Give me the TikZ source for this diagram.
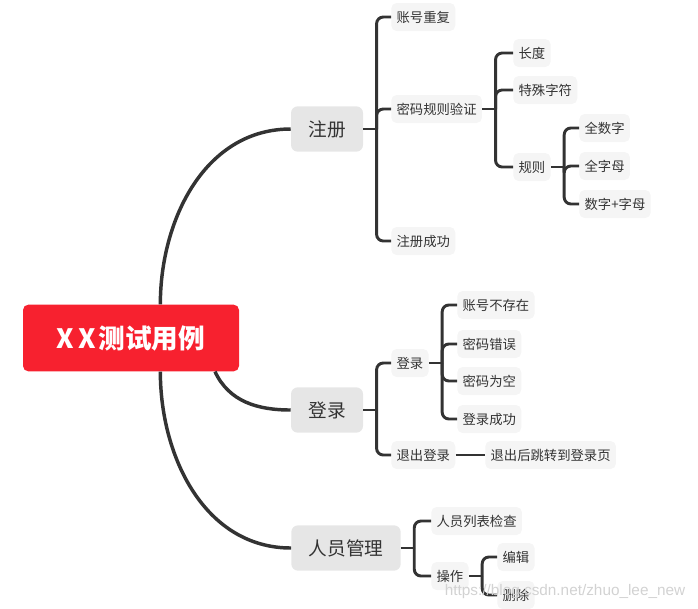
\documentclass[tikz,border=0pt]{standalone}
\usepackage{fontspec}
\newfontfamily\cjk{Noto Sans CJK SC}
\newfontfamily\markfont{Liberation Sans}
\usetikzlibrary{positioning}
\definecolor{rootred}{RGB}{247,33,47}
\definecolor{topicgray}{RGB}{230,230,230}
\definecolor{leafgray}{RGB}{245,245,245}
\definecolor{ink}{RGB}{51,51,51}
\tikzset{
  root/.style={fill=rootred,text=white,rounded corners=4pt,minimum width=162pt,
    minimum height=50pt,font=\cjk\bfseries\fontsize{20pt}{20pt}\selectfont},
  topic/.style={fill=topicgray,text=ink,rounded corners=5pt,inner xsep=13pt,
    minimum height=34pt,font=\cjk\fontsize{14pt}{14pt}\selectfont},
  leaf/.style={fill=leafgray,text=ink,rounded corners=4pt,inner xsep=4pt,
    minimum height=21pt,anchor=west,font=\cjk\fontsize{10pt}{10pt}\selectfont},
  branch/.style={draw=ink,line width=2.2pt,rounded corners=5pt},
  limb/.style={draw=ink,line width=2.6pt}
}
\begin{document}
\begin{tikzpicture}[x=0.75pt,y=-0.75pt]
  \useasboundingbox (0,0) rectangle (698,608);
  % centre and the three main topics
  \node[root] (root) at (131,338) {X\hspace{3pt}X\hspace{2pt}测试用例};
  \node[topic] (reg) at (327,129) {注册};
  \node[topic] (login) at (327,410) {登录};
  \node[topic] (staff) at (346,548) {人员管理};
  % 注册
  \node[leaf] (reg-dup) at (391,17) {账号重复};
  \node[leaf] (reg-rule) at (391,109) {密码规则验证};
  \node[leaf] (reg-ok) at (391,241) {注册成功};
  \node[leaf] (rule-len) at (513,53) {长度};
  \node[leaf] (rule-spec) at (513,90) {特殊字符};
  \node[leaf] (rule-kind) at (513,167) {规则};
  \node[leaf] (kind-num) at (579,128) {全数字};
  \node[leaf] (kind-alpha) at (579,166) {全字母};
  \node[leaf] (kind-mix) at (579,204) {数字+字母};
  % 登录
  \node[leaf] (login-in) at (391,363) {登录};
  \node[leaf] (login-out) at (391,455) {退出登录};
  \node[leaf] (in-noacc) at (457,305) {账号不存在};
  \node[leaf] (in-wrong) at (457,344) {密码错误};
  \node[leaf] (in-empty) at (457,381) {密码为空};
  \node[leaf] (in-ok) at (457,419) {登录成功};
  \node[leaf] (out-jump) at (485,455) {退出后跳转到登录页};
  % 人员管理
  \node[leaf] (staff-list) at (431,521) {人员列表检查};
  \node[leaf] (staff-op) at (431,576) {操作};
  \node[leaf] (op-edit) at (497,557) {编辑};
  \node[leaf] (op-del) at (497,595) {删除};
  % curves out of the centre
  \draw[limb] ([xshift=22pt]root.north) to[out=90,in=180] (reg.west);
  \draw[limb] ([xshift=63pt]root.south) to[out=-65,in=180] (login.west);
  \draw[limb] ([xshift=22pt]root.south) to[out=-90,in=180] (staff.west);
  % brackets: parent -> list of children
  \foreach \p/\cs in {reg/{reg-dup,reg-rule,reg-ok},
                      reg-rule/{rule-len,rule-spec,rule-kind},
                      rule-kind/{kind-num,kind-alpha,kind-mix},
                      login/{login-in,login-out},
                      login-in/{in-noacc,in-wrong,in-empty,in-ok},
                      staff/{staff-list,staff-op},
                      staff-op/{op-edit,op-del}}{
    \draw[branch] (\p.east) -- ([xshift=10pt]\p.east);
    \foreach \c in \cs
      \draw[branch] ([xshift=10pt]\p.east) |- (\c.west);
  }
  \draw[branch] (login-out) -- (out-jump);
  % watermark
  \node[text=gray!35,font=\markfont\fontsize{11.5pt}{11.5pt}\selectfont] (mark) at (565,592)
    {https://blog.csdn.net/zhuo\_lee\_new};
\end{tikzpicture}
\end{document}
